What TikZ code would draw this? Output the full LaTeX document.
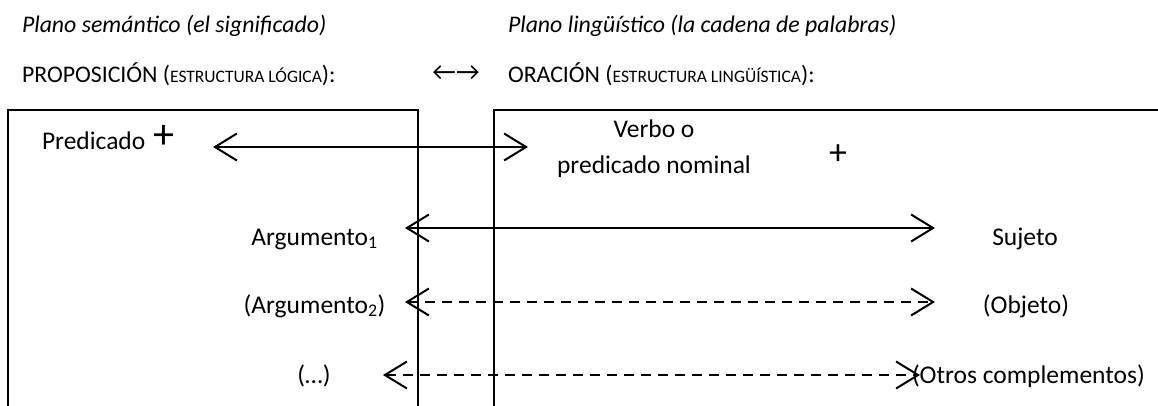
\documentclass[tikz,border=0pt]{standalone}
\usepackage{fontspec}
\setmainfont{Carlito}
\newfontfamily\arrowfont{Carlito}
\usetikzlibrary{arrows.meta}
\newcommand{\smallcapsx}[1]{{\fontsize{17.5}{17.5}\selectfont #1}}
\begin{document}
\begin{tikzpicture}[x=1pt,y=-1pt,
  every node/.style={inner sep=0pt,outer sep=0pt},
  hdr/.style={font=\fontsize{23.8}{28}\selectfont\itshape,anchor=base west},
  ttl/.style={font=\fontsize{23.8}{28}\selectfont,anchor=base west},
  lbl/.style={font=\fontsize{25.5}{36}\selectfont,anchor=base},
  plus/.style={font=\fontsize{42}{42}\selectfont},
  boxline/.style={line width=2pt},
  conn/.style={line width=2pt,{Straight Barb[length=22pt,width=27pt]}-{Straight Barb[length=22pt,width=27pt]}},
  dconn/.style={conn,dash pattern=on 10pt off 7pt}]
\useasboundingbox (0,0) rectangle (1158,405);
\clip (0,0) rectangle (1158,405);
% boxes
\draw[boxline] (8,420) -- (8,110) -- (418,110) -- (418,420);
\draw[boxline] (494,420) -- (494,110) -- (1170,110);
% headers
\node[hdr] (h1) at (22,32) {Plano semántico (el significado)};
\node[hdr] (h2) at (508,32) {Plano lingüístico (la cadena de palabras)};
\node[ttl] (t1) at (22,82) {PROPOSICIÓN (\smallcapsx{ESTRUCTURA LÓGICA}):};
\node[ttl] (t2) at (508,82) {ORACIÓN (\smallcapsx{ESTRUCTURA LINGÜÍSTICA}):};
\node[font=\fontsize{26}{26}\arrowfont] (lr) at (456,73) {←→};
% labels
\node[ttl,font=\fontsize{25.5}{30}\selectfont] (pred) at (42,149) {Predicado};
\node[plus] (plus1) at (164,137) {+};
\node[lbl,align=center,anchor=base] (verbo) at (654,173) {Verbo o\\predicado nominal};
\node[plus,font=\fontsize{36}{36}\selectfont] (plus2) at (838,155) {+};
\node[lbl] (arg1) at (314.5,245) {Argumento\textsubscript{1}};
\node[lbl] (suj) at (1025,245) {Sujeto};
\node[lbl] (arg2) at (314.5,313) {(Argumento\textsubscript{2})};
\node[lbl] (obj) at (1026,313) {(Objeto)};
\node[lbl] (etc) at (314,383) {(…)};
\node[ttl,font=\fontsize{25.5}{30}\selectfont] (otros) at (912,383) {(Otros complementos)};
% connector ends
\coordinate (pa) at (213,147);
\coordinate (pb) at (528,147);
\coordinate (a1a) at (405,228);
\coordinate (a1b) at (935,228);
\coordinate (a2a) at (405,302);
\coordinate (a2b) at (935,302);
\coordinate (a3a) at (383,375);
\coordinate (a3b) at (920,375);
\draw[conn] (pa) -- (pb);
\draw[conn] (a1a) -- (a1b);
\draw[dconn] (a2a) -- (a2b);
\draw[dconn] (a3a) -- (a3b);
\end{tikzpicture}
\end{document}
